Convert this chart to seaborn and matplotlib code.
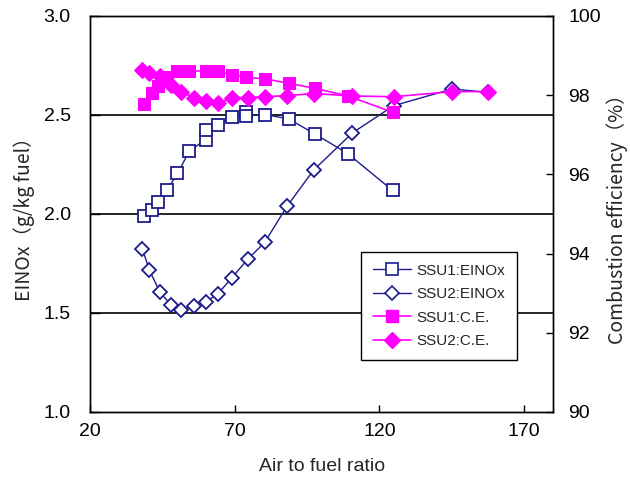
import matplotlib
matplotlib.use("Agg")
import matplotlib.pyplot as plt
import seaborn as sns
import pandas as pd
from matplotlib.lines import Line2D

# ---- data ----
ssu1_afr = [38.8, 41.3, 43.5, 46.6, 50.2, 54.3, 59.9, 60.1, 64.3, 68.9, 74.0, 74.0,
            80.6, 88.6, 97.8, 109.1, 124.5]
ssu1_einox = [1.99, 2.02, 2.06, 2.12, 2.205, 2.317, 2.376, 2.423, 2.448, 2.49, 2.513, 2.495,
              2.502, 2.48, 2.403, 2.304, 2.119]
ssu1_ce = [97.77, 98.05, 98.22, 98.45, 98.60, 98.60, 98.62, 98.60, 98.60, 98.51, 98.47, 98.45,
           98.41, 98.30, 98.17, 97.98, 97.57]

ssu2_afr = [38.1, 40.5, 44.2, 48.0, 51.4, 55.8, 60.0, 64.1, 69.0, 74.5, 80.3, 88.1,
            97.2, 110.6, 124.9, 145.1, 157.6]
ssu2_einox = [1.822, 1.716, 1.604, 1.540, 1.517, 1.534, 1.557, 1.596, 1.678, 1.772, 1.856,
              2.040, 2.221, 2.409, 2.547, 2.631, 2.614]
ssu2_ce = [98.64, 98.56, 98.49, 98.26, 98.09, 97.94, 97.85, 97.79, 97.93, 97.94, 97.96,
           97.99, 98.04, 97.98, 97.96, 98.09, 98.09]

labels = ["SSU1:EINOx", "SSU2:EINOx", "SSU1:C.E.", "SSU2:C.E."]
x_ticks = [20, 70, 120, 170]
left_ticks = [1.0, 1.5, 2.0, 2.5, 3.0]
right_ticks = [90, 92, 94, 96, 98, 100]

NAVY = "#1c1c8c"
MAG = "#ff00ff"

sns.set_style("white")
plt.rcParams["font.family"] = ["Liberation Sans", "DejaVu Sans"]

fig = plt.figure(figsize=(6.3, 4.83), dpi=100)
ax = fig.add_axes([0.143, 0.147, 0.735, 0.820])
ax2 = ax.twinx()

df1 = pd.DataFrame({"afr": ssu1_afr, "einox": ssu1_einox, "ce": ssu1_ce})
df2 = pd.DataFrame({"afr": ssu2_afr, "einox": ssu2_einox, "ce": ssu2_ce})

sns.lineplot(data=df1, x="afr", y="einox", ax=ax, sort=False, estimator=None,
             color=NAVY, lw=1.0, marker="s", markersize=9, markerfacecolor="white",
             markeredgecolor=NAVY, markeredgewidth=1.3, zorder=3)
sns.lineplot(data=df2, x="afr", y="einox", ax=ax, sort=False, estimator=None,
             color=NAVY, lw=1.0, marker="D", markersize=7.5, markerfacecolor="white",
             markeredgecolor=NAVY, markeredgewidth=1.3, zorder=3)
sns.lineplot(data=df1, x="afr", y="ce", ax=ax2, sort=False, estimator=None,
             color=MAG, lw=1.2, marker="s", markersize=9, markerfacecolor=MAG,
             markeredgecolor=MAG, zorder=3)
sns.lineplot(data=df2, x="afr", y="ce", ax=ax2, sort=False, estimator=None,
             color=MAG, lw=1.2, marker="D", markersize=8, markerfacecolor=MAG,
             markeredgecolor=MAG, zorder=3)

ax.set_xlim(20, 180)
ax.set_ylim(1.0, 3.0)
ax2.set_ylim(90, 100)
ax.set_xticks(x_ticks)
ax.set_yticks(left_ticks)
ax.set_yticklabels([f"{v:.1f}" for v in left_ticks])
ax2.set_yticks(right_ticks)

for yv in [1.5, 2.0, 2.5]:
    ax.axhline(yv, color="black", lw=1.2, zorder=1)

for a in (ax, ax2):
    for s in a.spines.values():
        s.set_color("black")
        s.set_linewidth(1.0)

ax.tick_params(axis="y", direction="in", length=7, width=1, pad=14, labelsize=14,
               left=True, colors="black")
ax.tick_params(axis="x", direction="in", length=5, width=1, pad=8, labelsize=14,
               bottom=True, colors="black")
ax2.tick_params(axis="y", direction="in", length=5, width=1, pad=11, labelsize=14,
                right=True, colors="black")

ax.set_xlabel("Air to fuel ratio", fontsize=14, labelpad=13)
ax.set_ylabel("EINOx（g/kg fuel）", fontsize=14, labelpad=6,
              family=["Noto Sans CJK JP", "DejaVu Sans"])
ax2.set_ylabel("Combustion efficiency（%）", fontsize=14, labelpad=4,
               family=["Noto Sans CJK JP", "DejaVu Sans"])

handles = [
    Line2D([], [], color=NAVY, lw=1.0, marker="s", markersize=9, markerfacecolor="white",
           markeredgecolor=NAVY, markeredgewidth=1.2),
    Line2D([], [], color=NAVY, lw=1.0, marker="D", markersize=7, markerfacecolor="white",
           markeredgecolor=NAVY, markeredgewidth=1.2),
    Line2D([], [], color=MAG, lw=1.2, marker="s", markersize=9, markerfacecolor=MAG,
           markeredgecolor=MAG),
    Line2D([], [], color=MAG, lw=1.2, marker="D", markersize=8, markerfacecolor=MAG,
           markeredgecolor=MAG),
]
leg = ax2.legend(handles, labels, loc="upper left", bbox_to_anchor=(0.585, 0.405),
                 fontsize=11, frameon=True, fancybox=False, shadow=False,
                 edgecolor="black", framealpha=1, handlelength=2.5,
                 labelspacing=0.62, borderpad=0.8, handletextpad=0.3, borderaxespad=0)
leg.get_frame().set_linewidth(1.0)

fig.savefig("out.png", dpi=100)
